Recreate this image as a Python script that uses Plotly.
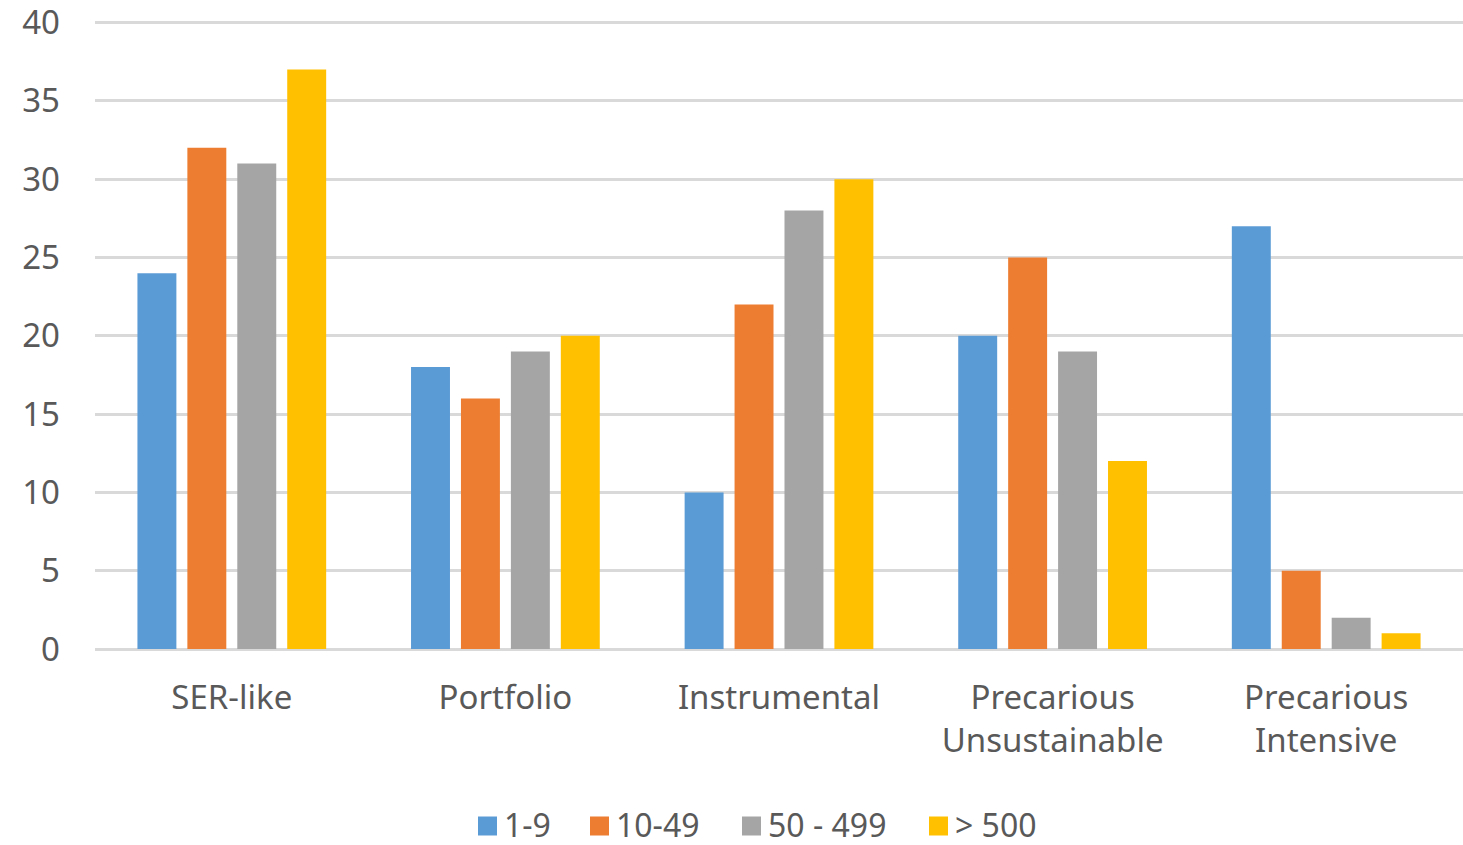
import plotly.graph_objects as go

categories = ["SER-like", "Portfolio", "Instrumental", "Precarious<br>Unsustainable", "Precarious<br>Intensive"]
series_names = ["1-9", "10-49", "50 - 499", "> 500"]
values_1_9 = [24, 18, 10, 20, 27]
values_10_49 = [32, 16, 22, 25, 5]
values_50_499 = [31, 19, 28, 19, 2]
values_500 = [37, 20, 30, 12, 1]
y_ticks = [0, 5, 10, 15, 20, 25, 30, 35, 40]

colors = ["#5B9BD5", "#ED7D31", "#A5A5A5", "#FFC000"]
all_values = [values_1_9, values_10_49, values_50_499, values_500]
text_color = "#595959"
font_family = "Noto Sans, Open Sans, sans-serif"

fig = go.Figure()
for name, vals, col in zip(series_names, all_values, colors):
    fig.add_trace(go.Bar(x=categories, y=vals, name=name, marker_color=col,
                         marker_line_width=0, showlegend=False))

# legend below the plot: coloured squares followed by labels
plot_left, plot_width = 95, 1368
plot_bottom, plot_height = 649, 628
legend_x = [478, 590, 742, 929]          # left edge of each swatch (px)
swatch = 19
legend_mid = 824

def px_x(v):
    return (v - plot_left) / plot_width

def px_y(v):
    return (plot_bottom - v) / plot_height

for name, col, lx in zip(series_names, colors, legend_x):
    fig.add_shape(type="rect", xref="paper", yref="paper",
                  x0=px_x(lx), x1=px_x(lx + swatch),
                  y0=px_y(legend_mid + 2 + swatch / 2), y1=px_y(legend_mid + 2 - swatch / 2),
                  fillcolor=col, line_width=0)
    fig.add_annotation(text=name, xref="paper", yref="paper",
                       x=px_x(lx + swatch + 6), y=px_y(legend_mid),
                       xanchor="left", yanchor="middle", showarrow=False,
                       borderpad=0, font=dict(size=32, color=text_color))

fig.update_layout(
    width=1463, height=845,
    margin=dict(l=95, r=0, t=21, b=196),
    paper_bgcolor="white", plot_bgcolor="white",
    barmode="group", bargap=0.27, bargroupgap=0.22,
    font=dict(family=font_family, size=33, color=text_color),
    showlegend=False,
)
fig.update_xaxes(showgrid=False, showline=False, zeroline=False,
                 ticks="", ticklabelstandoff=26,
                 tickfont=dict(size=33, color=text_color))
fig.update_yaxes(range=[0, 40.1], tickvals=y_ticks, showgrid=True,
                 gridcolor="#D9D9D9", gridwidth=2.5, zeroline=True,
                 zerolinecolor="#D9D9D9", zerolinewidth=2.5, showline=False,
                 ticks="", ticklabelstandoff=34, ticklabeloverflow="allow",
                 tickfont=dict(size=33, color=text_color))

fig.write_html("out.html")
